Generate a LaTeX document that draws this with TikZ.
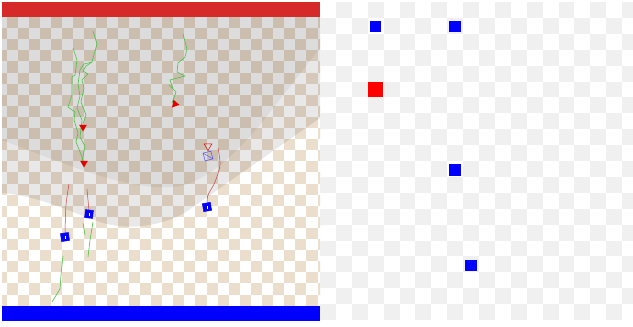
\documentclass[tikz,border=0pt]{standalone}
\usetikzlibrary{shapes.geometric}
\definecolor{tanc}{RGB}{236,222,204}
\definecolor{gridgray}{RGB}{240,240,240}
\definecolor{barred}{RGB}{214,42,42}
\definecolor{trailgreen}{RGB}{70,195,70}
\definecolor{trailred}{RGB}{196,70,70}
\tikzset{
  agent/.style={draw=blue,fill=blue,minimum size=8pt,inner sep=0pt,line width=.5pt},
  agentmark/.style={white,line width=.5pt},
  goalmark/.style={regular polygon,regular polygon sides=3,fill=red!90!black,inner sep=0pt,minimum size=9pt},
  ghostgoal/.style={regular polygon,regular polygon sides=3,draw=red!85!black,line width=.5pt,inner sep=0pt,minimum size=9pt},
  ghostagent/.style={draw=blue!70,line width=.5pt,minimum size=8pt,inner sep=0pt},
  greentrail/.style={trailgreen,line width=.6pt,line join=round},
  redtrail/.style={trailred,line width=.5pt},
  fog/.style={fill=black,draw=none},
  mapcell/.style={minimum size=11.5pt,inner sep=0pt,draw=none}
}
\begin{document}
\begin{tikzpicture}[x=1pt,y=-1pt,font=\small]
\useasboundingbox[fill=white] (0,0) rectangle (633,327);
% left panel: checker floor
\begin{scope}
\clip (2,17) rectangle (320,305.6);
\fill[white] (2,17) rectangle (320,305.6);
\foreach \c in {-1,...,28}
  \foreach \r in {0,...,25}{
    \pgfmathtruncatemacro\s{mod(\c+\r+100,2)}
    \ifnum\s=0
      \fill[tanc] (6.7+11.1*\c,17+11.1*\r) rectangle ++(11.1,11.1);
    \fi}
% fog over the upper part
\path[fog,opacity=.09] (2,17) -- (320,17) -- (320,118) -- (193,207)
  .. controls (170,225) and (130,232) .. (100,222)
  .. controls (70,212) and (40,196) .. (2,193) -- cycle;
\path[fog,opacity=.05] (2,17) -- (320,17) -- (320,48) -- (270,112)
  .. controls (245,145) and (215,175) .. (185,185)
  .. controls (140,195) and (80,170) .. (2,140) -- cycle;
\end{scope}
\fill[barred] (2,2) rectangle (320,17);
\fill[blue] (2,305.6) rectangle (320,320.7);
% right panel: map grid
\begin{scope}
\clip (320,2) rectangle (633,320);
\foreach \c in {0,...,19}
  \foreach \r in {0,...,19}{
    \pgfmathtruncatemacro\s{mod(\c+\r,2)}
    \ifnum\s=1
      \fill[gridgray] (320+15.9*\c,2+15.9*\r) rectangle ++(15.9,15.9);
    \fi}
\end{scope}
\node[mapcell,fill=blue] (cellA) at (375.5,26.5) {};
\node[mapcell,fill=blue] (cellB) at (455,26.5) {};
\node[mapcell,fill=red,minimum size=15.7pt] (cellGoal) at (375.5,89.5) {};
\node[mapcell,fill=blue] (cellC) at (455,170) {};
\node[mapcell,fill=blue] (cellD) at (471,265.5) {};
% green trails
\draw[greentrail] (93,31) -- (97,44) -- (92,62) -- (86,66) -- (83,71) -- (88,74) -- (82,80)
  -- (84,88) -- (81,102) -- (86,115) -- (82,127);
\draw[greentrail] (73,48) -- (77,60) -- (75,75) -- (72,77) -- (72,95) -- (68,107) -- (75,112)
  -- (74,120) -- (78,133) -- (76,142) -- (82,157) -- (84,163);
\draw[greentrail] (92,62) -- (84,64) -- (80,70) -- (78,84) -- (80,96) -- (77,108) -- (82,120)
  -- (80,137) -- (85,146) -- (82,162);
\draw[greentrail] (183,34) -- (187,49) -- (185,57) -- (178,63) -- (177,72) -- (185,76)
  -- (170,80) -- (173,89) -- (169,85) -- (176,92) -- (172,103);
\draw[greentrail] (63,256) -- (61,275) -- (60,289) -- (52,302);
\draw[greentrail] (93,222) -- (90,240) -- (88,257);
\draw[greentrail] (83,223) -- (85,235);
% red trails
\draw[redtrail] plot[smooth] coordinates {(69,184) (66,205) (65,233)};
\draw[redtrail] plot[smooth] coordinates {(87,189) (88,200) (89,210)};
\draw[redtrail] plot[smooth] coordinates {(218,148) (220,165) (215,182) (208,195) (207,203)};
% goals
\node[goalmark,rotate=180] (goalA) at (83,127) {};
\node[goalmark,rotate=180] (goalB) at (84,163) {};
\node[goalmark,rotate=20] (goalC) at (175,104) {};
\node[ghostgoal,rotate=180] (ghostGoal) at (208,146) {};
\node[ghostagent,rotate=15] (ghostAgent) at (208,156) {};
\draw[blue!70,line width=.4pt] (ghostAgent.north west) -- (ghostAgent.south east);
% agents
\node[agent,rotate=8] (agentA) at (65,237) {};
\node[agent,rotate=-6] (agentB) at (89,214) {};
\node[agent,rotate=10] (agentC) at (207,207) {};
\foreach \a in {agentA,agentB,agentC}
  \draw[agentmark] ([yshift=-2pt]\a.center) -- ([yshift=1.5pt]\a.center);
\end{tikzpicture}
\end{document}
